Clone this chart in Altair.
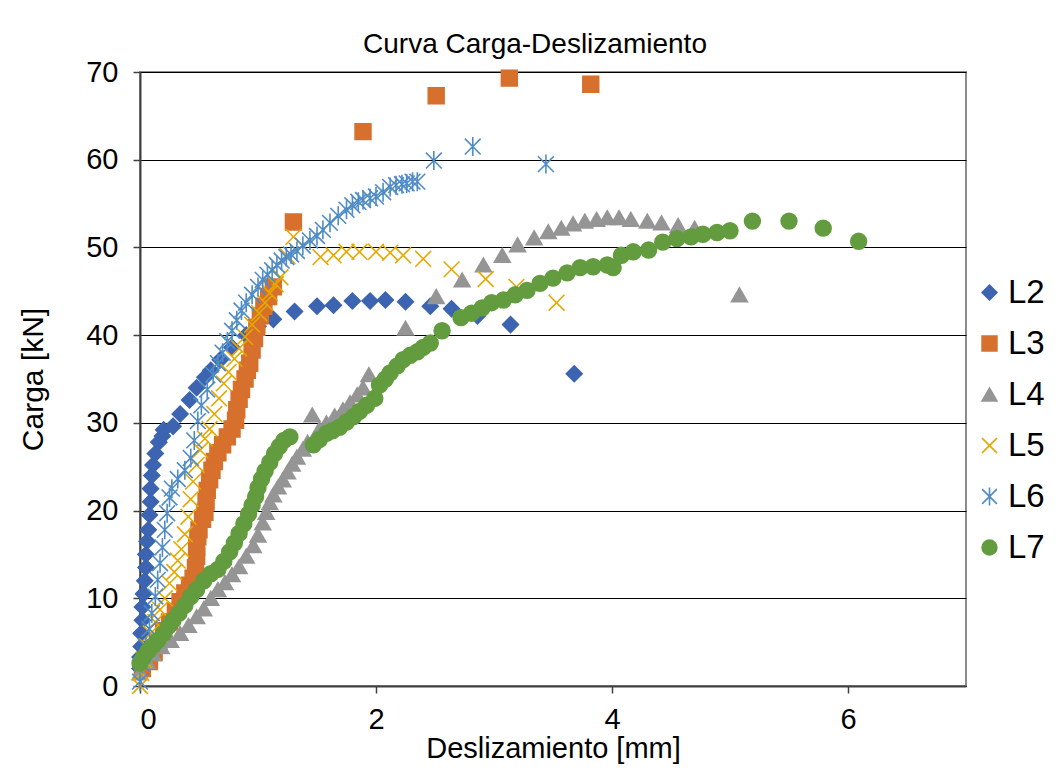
import altair as alt
import pandas as pd

series_names = ["L2", "L3", "L4", "L5", "L6", "L7"]
series_colors = ["#3C64B0", "#D6702C", "#959595", "#E6A800", "#4F8CC6", "#629C3E"]
series_shapes = ["diamond", "square", "triangle-up",
                 "M-1,-1L1,1M-1,1L1,-1",
                 "M-1,-1L1,1M-1,1L1,-1M0,-1.2L0,1.2",
                 "circle"]

L2 = [(0.00, 2.0), (0.00, 3.3), (0.01, 4.5), (0.01, 6.0), (0.02, 7.5), (0.02, 9.0), (0.03, 10.5),
      (0.04, 12.0), (0.05, 13.5), (0.05, 15.0), (0.06, 16.5), (0.07, 17.8), (0.08, 19.5), (0.09, 21.0),
      (0.09, 22.5), (0.10, 24.0), (0.11, 25.2), (0.13, 26.5), (0.16, 27.8), (0.19, 28.5), (0.20, 29.2),
      (0.28, 29.6), (0.34, 31.0), (0.42, 32.6), (0.48, 34.0), (0.55, 35.2), (0.60, 36.0), (0.68, 37.2),
      (0.78, 38.6), (0.90, 40.0), (1.00, 41.0), (1.13, 41.8), (1.31, 42.7), (1.50, 43.3), (1.64, 43.4),
      (1.80, 43.9), (1.95, 43.9), (2.08, 44.0), (2.25, 43.8), (2.46, 43.3), (2.64, 43.0), (2.86, 42.2),
      (3.14, 41.2), (3.68, 35.6)]

L3 = [(0.02, 2.0), (0.08, 2.8), (0.12, 3.8), (0.16, 5.0), (0.20, 6.3), (0.25, 7.3), (0.30, 8.5),
      (0.34, 9.6), (0.38, 10.6), (0.42, 11.5), (0.45, 12.3), (0.47, 13.5), (0.48, 14.8), (0.48, 15.8),
      (0.49, 17.0), (0.50, 17.8), (0.53, 19.0), (0.55, 19.8), (0.56, 21.0), (0.57, 22.3), (0.59, 23.5),
      (0.61, 24.6), (0.63, 25.6), (0.66, 26.6), (0.70, 27.5), (0.74, 28.4), (0.78, 29.3), (0.81, 30.3),
      (0.82, 31.5), (0.84, 32.7), (0.86, 33.8), (0.89, 35.0), (0.91, 36.0), (0.93, 36.8), (0.95, 38.3),
      (0.97, 39.6), (0.99, 40.9), (1.02, 42.2), (1.05, 43.3), (1.09, 44.4), (1.13, 45.5), (1.30, 52.9),
      (1.89, 63.2), (2.51, 67.3), (3.13, 69.3), (3.82, 68.6)]

L4 = [(0.00, 1.5), (0.06, 2.8), (0.11, 3.7), (0.18, 4.5), (0.26, 5.2), (0.34, 6.0), (0.41, 6.9),
      (0.48, 7.9), (0.54, 8.8), (0.60, 10.0), (0.66, 11.0), (0.72, 11.8), (0.78, 12.7), (0.84, 13.6),
      (0.90, 14.8), (0.96, 16.0), (1.00, 17.2), (1.04, 18.6), (1.07, 19.8), (1.10, 20.9), (1.13, 21.8),
      (1.17, 22.7), (1.21, 23.5), (1.25, 24.4), (1.29, 25.3), (1.33, 26.1), (1.38, 27.0), (1.42, 27.8),
      (1.46, 30.9), (1.52, 29.3), (1.58, 30.0), (1.65, 30.8), (1.72, 31.5), (1.78, 32.3), (1.84, 33.2),
      (1.89, 34.0), (1.94, 35.5), (2.25, 40.8), (2.51, 44.4), (2.73, 46.3), (2.91, 48.0), (3.07, 49.1),
      (3.20, 50.3), (3.34, 51.1), (3.46, 51.8), (3.57, 52.2), (3.67, 52.7), (3.77, 53.0), (3.87, 53.2),
      (3.96, 53.4), (4.06, 53.4), (4.16, 53.2), (4.30, 53.0), (4.42, 52.8), (4.56, 52.5), (4.70, 52.2),
      (5.08, 44.6)]

L5 = [(0.00, 0.0), (0.01, 1.5), (0.03, 3.0), (0.06, 4.5), (0.09, 6.0), (0.13, 7.3), (0.17, 8.7),
      (0.21, 10.0), (0.25, 11.7), (0.29, 13.0), (0.32, 14.3), (0.35, 15.6), (0.38, 17.3), (0.41, 19.3),
      (0.43, 21.3), (0.45, 23.3), (0.48, 25.2), (0.51, 26.9), (0.55, 28.2), (0.59, 29.3), (0.63, 31.0),
      (0.67, 32.8), (0.71, 34.5), (0.75, 35.8), (0.80, 37.3), (0.84, 38.5), (0.89, 39.8), (0.95, 41.2),
      (1.01, 42.5), (1.06, 43.7), (1.10, 44.8), (1.15, 45.8), (1.19, 46.6), (1.25, 49.0), (1.30, 51.2),
      (1.53, 48.9), (1.64, 49.1), (1.75, 49.5), (1.86, 49.5), (2.00, 49.5), (2.12, 49.4), (2.23, 49.1),
      (2.40, 48.7), (2.64, 47.5), (2.93, 46.4), (3.19, 45.5), (3.53, 43.7)]

L6 = [(0.00, 0.5), (0.02, 2.5), (0.05, 4.5), (0.08, 6.5), (0.10, 8.3), (0.13, 10.2), (0.15, 12.1),
      (0.17, 14.0), (0.19, 15.8), (0.21, 17.8), (0.23, 19.7), (0.25, 21.5), (0.27, 22.5), (0.32, 23.6),
      (0.38, 24.6), (0.43, 26.0), (0.46, 28.0), (0.49, 30.2), (0.52, 32.0), (0.57, 33.8), (0.62, 35.5),
      (0.66, 36.8), (0.70, 38.0), (0.74, 39.3), (0.78, 40.5), (0.82, 41.7), (0.86, 42.8), (0.90, 43.7),
      (0.95, 44.6), (1.00, 45.5), (1.04, 46.3), (1.08, 46.9), (1.12, 47.4), (1.16, 48.0), (1.20, 48.5),
      (1.24, 48.9), (1.28, 49.2), (1.33, 49.6), (1.38, 50.2), (1.44, 50.8), (1.50, 51.3), (1.55, 52.0),
      (1.61, 52.8), (1.68, 53.6), (1.75, 54.3), (1.80, 54.8), (1.85, 55.2), (1.89, 55.4), (1.95, 55.6),
      (2.00, 55.8), (2.06, 56.3), (2.12, 56.9), (2.17, 57.1), (2.22, 57.2), (2.26, 57.3), (2.31, 57.5),
      (2.35, 57.5), (2.49, 59.9), (2.82, 61.5), (3.44, 59.5)]

L7 = [(0.00, 2.6), (0.03, 3.3), (0.07, 4.0), (0.11, 4.6), (0.15, 5.2), (0.20, 6.0), (0.24, 6.8),
      (0.28, 7.5), (0.33, 8.3), (0.38, 9.2), (0.43, 10.2), (0.48, 11.0), (0.54, 12.0), (0.60, 12.8),
      (0.66, 13.3), (0.71, 14.2), (0.76, 15.3), (0.80, 16.3), (0.84, 17.4), (0.88, 18.5), (0.92, 19.6),
      (0.95, 20.6), (0.98, 21.6), (1.00, 22.6), (1.03, 23.6), (1.06, 24.5), (1.10, 25.5), (1.14, 26.5),
      (1.18, 27.3), (1.22, 28.0), (1.27, 28.4), (1.47, 27.5), (1.52, 28.1), (1.58, 28.8), (1.63, 29.1),
      (1.69, 29.5), (1.75, 30.1), (1.81, 30.7), (1.86, 31.3), (1.92, 32.0), (1.99, 32.8), (2.03, 34.3),
      (2.08, 35.0), (2.12, 35.7), (2.18, 36.5), (2.23, 37.2), (2.29, 37.7), (2.35, 38.1), (2.40, 38.6),
      (2.46, 39.1), (2.56, 40.5), (2.72, 42.0), (2.81, 42.5), (2.90, 43.1), (2.98, 43.7), (3.08, 44.0),
      (3.18, 44.6), (3.28, 45.1), (3.39, 45.9), (3.50, 46.5), (3.62, 47.1), (3.73, 47.7), (3.84, 47.8),
      (3.96, 48.0), (4.01, 47.7), (4.08, 49.1), (4.18, 49.5), (4.31, 49.7), (4.43, 50.6), (4.55, 51.0),
      (4.67, 51.2), (4.77, 51.5), (4.89, 51.7), (5.00, 51.9), (5.19, 53.0), (5.50, 53.0), (5.79, 52.2),
      (6.09, 50.7)]

rows = []
for name, pts in zip(series_names, [L2, L3, L4, L5, L6, L7]):
    for d, c in pts:
        rows.append({"serie": name, "Deslizamiento": d, "Carga": c})
df = pd.DataFrame(rows)

FONT = "Liberation Sans"

chart = alt.Chart(df).mark_point(filled=True, size=250, strokeWidth=1.6, opacity=1).encode(
    x=alt.X("Deslizamiento:Q", title="Deslizamiento [mm]",
            scale=alt.Scale(domain=[0, 7], nice=False),
            axis=alt.Axis(values=[0, 2, 4, 6], grid=False, tickSize=7, labelPadding=12,
                          titlePadding=0, titleFontSize=29, domainColor="#404040", domainWidth=2,
                          tickColor="#404040", tickWidth=1.5)),
    y=alt.Y("Carga:Q", title="Carga [kN]",
            scale=alt.Scale(domain=[0, 70], nice=False),
            axis=alt.Axis(values=[0, 10, 20, 30, 40, 50, 60, 70], grid=True, gridColor="#000000",
                          gridWidth=1, tickSize=7, labelPadding=15, titlePadding=37,
                          domainColor="#404040", domainWidth=2, tickColor="#404040", tickWidth=1.5)),
    fill=alt.Fill("serie:N", scale=alt.Scale(domain=series_names, range=series_colors), title=None),
    stroke=alt.Stroke("serie:N", scale=alt.Scale(domain=series_names, range=series_colors), title=None),
    shape=alt.Shape("serie:N", scale=alt.Scale(domain=series_names, range=series_shapes), title=None),
    order=alt.Order("serie:N"),
).properties(
    width=826, height=614,
    autosize="none",
    padding={"left": 132, "top": 64, "right": 85, "bottom": 80},
    title=alt.TitleParams("Curva Carga-Deslizamiento", fontSize=28, font=FONT, fontWeight="normal",
                          color="#000000", offset=-1, dx=-18),
).configure_view(
    stroke="#8c8c8c", strokeWidth=2
).configure_axis(
    labelFont=FONT, titleFont=FONT, labelFontSize=29, titleFontSize=30,
    labelColor="#000000", titleColor="#000000", titleFontWeight="normal"
).configure_legend(
    orient="none", legendX=833, legendY=204, padding=0,
    labelFont=FONT, labelFontSize=33, labelColor="#000000",
    symbolSize=220, symbolStrokeWidth=1.6, rowPadding=17, labelOffset=2
)

chart.save("out.html", embed_options={"renderer": "svg", "actions": False})
